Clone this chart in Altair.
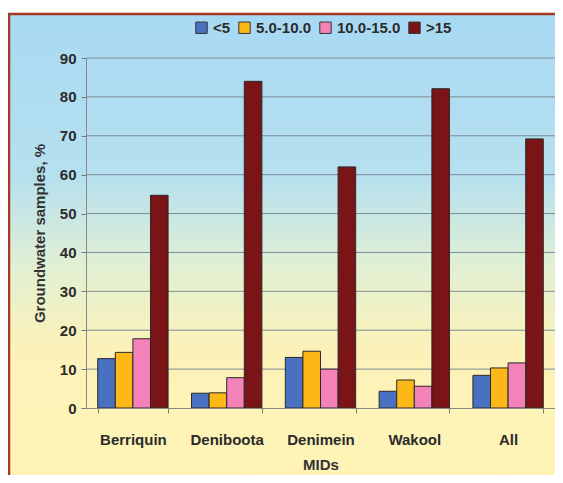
import altair as alt
import pandas as pd

categories = ["Berriquin", "Deniboota", "Denimein", "Wakool", "All"]
series = ["<5", "5.0-10.0", "10.0-15.0", ">15"]
vals_lt5 = [12.7, 3.8, 13.0, 4.3, 8.4]
vals_5_10 = [14.3, 3.9, 14.6, 7.2, 10.3]
vals_10_15 = [17.8, 7.8, 10.0, 5.6, 11.6]
vals_gt15 = [54.7, 84.0, 62.0, 82.1, 69.2]
y_ticks = [0, 10, 20, 30, 40, 50, 60, 70, 80, 90]
grid_vals = [10, 20, 30, 40, 50, 60, 70, 80, 90]
colors = ["#4a70c2", "#fbb817", "#f282b8", "#7b1416"]

rows = []
for s, vals in zip(series, [vals_lt5, vals_5_10, vals_10_15, vals_gt15]):
    for c, v in zip(categories, vals):
        rows.append({"MID": c, "Range": s, "Value": v})
df = pd.DataFrame(rows)

W, H = 469, 350
FONT = "Liberation Sans"
FS = 15

yscale = alt.Scale(domain=[0, 90], nice=False)
yaxis = alt.Axis(
    values=y_ticks, tickCount=10, grid=False, tickSize=5, tickColor="#777777",
    domainColor="#888888", labelOverlap=False,
    labelFont=FONT, labelFontSize=FS, labelFontWeight="bold",
    labelColor="#2b2b2b", labelPadding=5,
    title="Groundwater samples, %",
    titleFont=FONT, titleFontSize=FS, titleFontWeight="bold",
    titleColor="#333333", titlePadding=12, zindex=1,
)

bg = alt.Chart(pd.DataFrame({"a": [0]})).mark_rect(
    color=alt.LinearGradient(
        gradient="linear",
        stops=[
            alt.GradientStop(color="#a8d9f3", offset=0),
            alt.GradientStop(color="#b6e0ef", offset=0.35),
            alt.GradientStop(color="#e2f0d2", offset=0.55),
            alt.GradientStop(color="#fcf2b9", offset=0.72),
            alt.GradientStop(color="#fff4b6", offset=1),
        ],
        x1=0, x2=0, y1=0, y2=1,
    )
).encode(
    x=alt.value(-77), x2=alt.value(W + 20),
    y=alt.value(-44), y2=alt.value(H + 70),
)

border = alt.Chart(pd.DataFrame({"a": [0]})).mark_rect(
    filled=False, stroke="#a33a22", strokeWidth=2.5
).encode(
    x=alt.value(-77), x2=alt.value(W + 20),
    y=alt.value(-44), y2=alt.value(H + 70),
)

grid = alt.Chart(pd.DataFrame({"Value": grid_vals})).mark_rule(
    color="#7d8d96", strokeWidth=1
).encode(
    y=alt.Y("Value:Q", scale=yscale, axis=yaxis),
    x=alt.value(0), x2=alt.value(W),
)

bars = alt.Chart(df).mark_bar(stroke="#2a2a2a", strokeWidth=1).encode(
    x=alt.X(
        "MID:N", sort=categories,
        scale=alt.Scale(paddingInner=0.25, paddingOuter=0.125),
        axis=alt.Axis(
            title="MIDs", labelAngle=0, tickBand="extent", tickSize=5,
            tickColor="#777777", domainColor="#888888",
            labelFont=FONT, labelFontSize=FS, labelFontWeight="bold",
            labelColor="#2b2b2b", labelPadding=19,
            titleFont=FONT, titleFontSize=FS, titleFontWeight="bold",
            titleColor="#333333", titlePadding=10, zindex=1,
        ),
    ),
    xOffset=alt.XOffset("Range:N", sort=series,
                        scale=alt.Scale(paddingInner=0, paddingOuter=0)),
    y=alt.Y("Value:Q", scale=yscale, axis=yaxis),
    color=alt.Color(
        "Range:N", sort=series,
        scale=alt.Scale(domain=series, range=colors),
        legend=alt.Legend(
            title=None, orient="none", legendX=108, legendY=-38,
            direction="horizontal", columns=4, symbolType="square",
            symbolSize=130, symbolStrokeColor="#333333", symbolStrokeWidth=1,
            labelFont=FONT, labelFontSize=FS, labelFontWeight="bold",
            labelColor="#2b2b2b", columnPadding=5, labelOffset=4, zindex=1,
        ),
    ),
)

chart = alt.layer(bg, border, grid, bars).properties(
    width=W, height=H,
    autosize=alt.AutoSizeParams(type="none"),
    padding={"left": 78, "top": 50, "right": 0, "bottom": 67},
    background="white",
).configure_view(stroke="#8c9aa3", strokeWidth=1)

chart.save("out.html", embed_options={"renderer": "svg", "actions": False})
